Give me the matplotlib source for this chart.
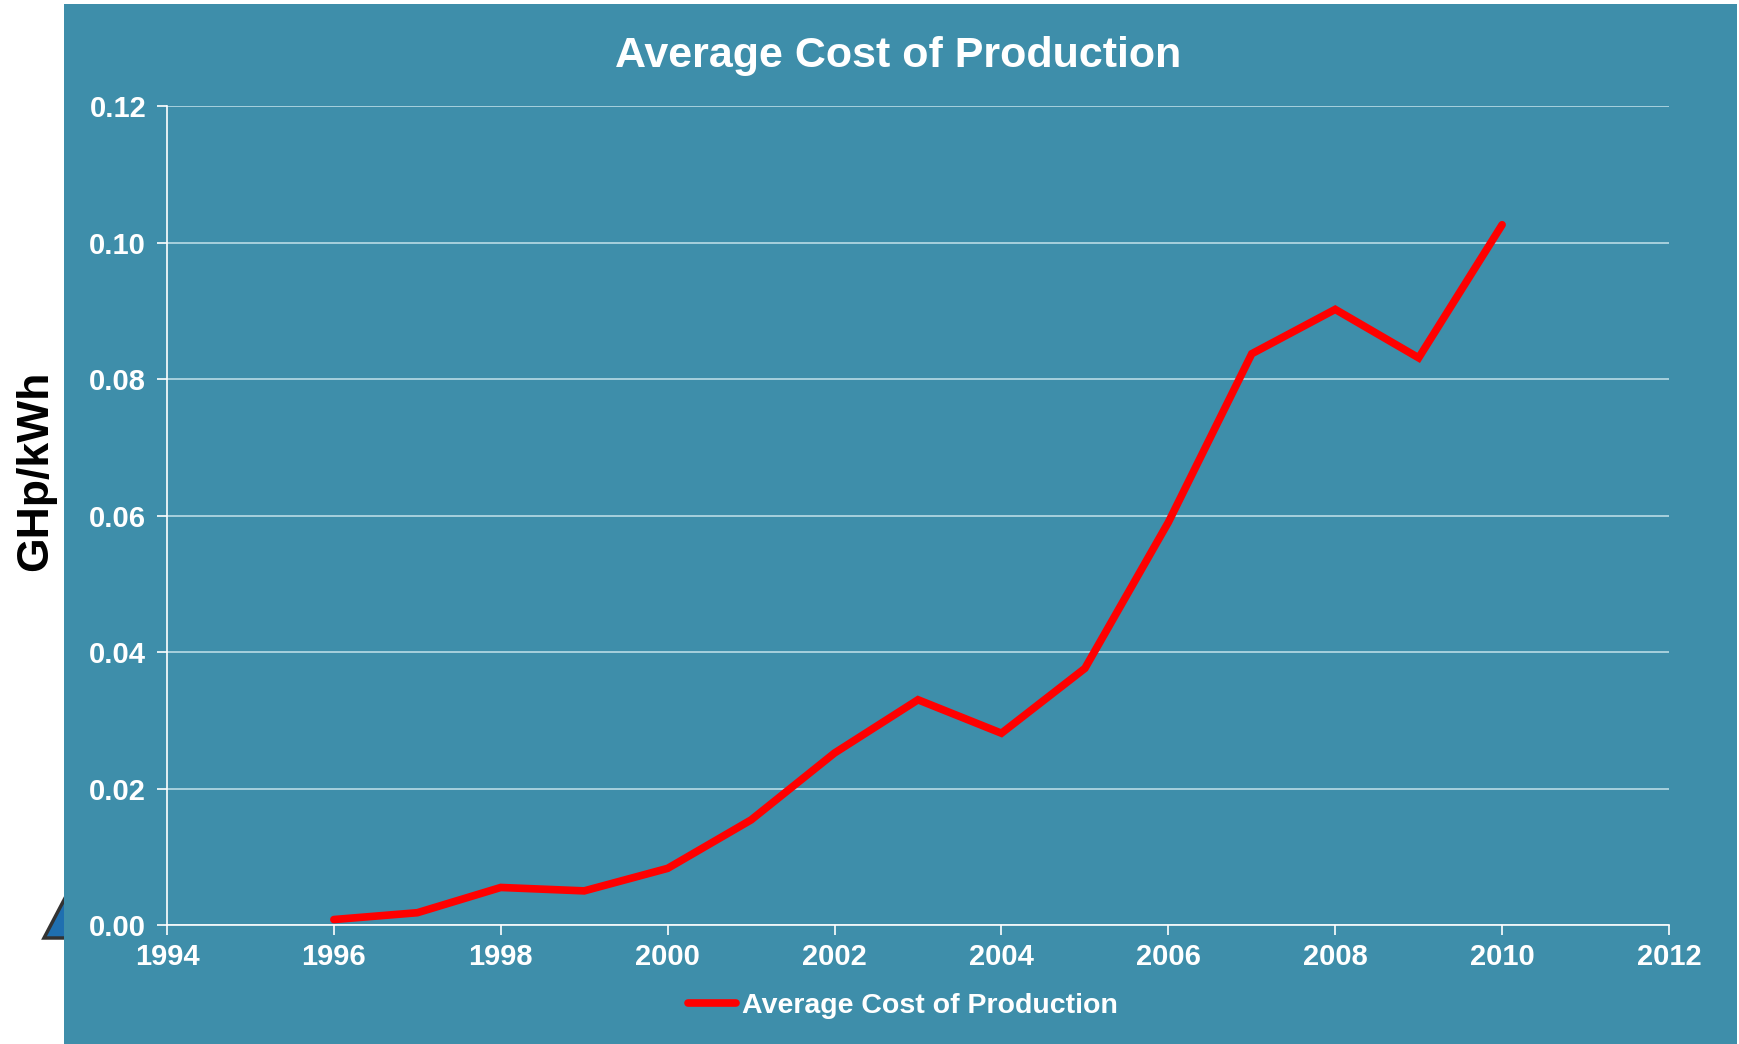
import matplotlib
matplotlib.use("Agg")
import matplotlib.pyplot as plt
from matplotlib.patches import Rectangle, Polygon
from matplotlib.lines import Line2D

years = [1996, 1997, 1998, 1999, 2000, 2001, 2002, 2003, 2004, 2005, 2006, 2007, 2008, 2009, 2010]
cost = [0.0008, 0.0018, 0.0055, 0.0050, 0.0083, 0.0154, 0.0252, 0.0330, 0.0281, 0.0376, 0.0590, 0.0837, 0.0902, 0.0831, 0.1026]
x_ticks = [1994, 1996, 1998, 2000, 2002, 2004, 2006, 2008, 2010, 2012]
y_ticks = [0.00, 0.02, 0.04, 0.06, 0.08, 0.10, 0.12]
series_name = "Average Cost of Production"
title = "Average Cost of Production"
ylabel = "GHp/kWh"

plt.rcParams['font.family'] = ['Liberation Sans', 'DejaVu Sans']
bg = '#3e8eaa'
W, H = 1739, 1044
fig = plt.figure(figsize=(W / 100, H / 100), dpi=100, facecolor='white')

# decorative triangle partially hidden behind panel
tri = Polygon([(44 / W, 1 - 938 / H), (64 / W, 1 - 900 / H), (80 / W, 1 - 938 / H)],
              closed=True, transform=fig.transFigure, facecolor='#1f6fb0',
              edgecolor='#333333', linewidth=2.5, zorder=-3)
fig.patches.append(tri)
panel = Rectangle((64 / W, 0), (1737 - 64) / W, 1 - 4 / H, transform=fig.transFigure,
                  facecolor=bg, edgecolor='none', zorder=-2)
fig.patches.append(panel)

ax = fig.add_axes([167 / W, 1 - 925 / H, (1669 - 167) / W, (925 - 106) / H])
ax.set_facecolor('none')
ax.plot(years, cost, color='#ff0000', linewidth=5.5, solid_capstyle='round',
        solid_joinstyle='miter', label=series_name, zorder=3)
ax.set_xlim(1994, 2012)
ax.set_ylim(0, 0.12)
ax.set_xticks(x_ticks)
ax.set_yticks(y_ticks)
ax.set_yticklabels([f"{v:.2f}" for v in y_ticks])
ax.grid(axis='y', color='#b9dbe6', linewidth=1.2)
ax.set_axisbelow(True)
for s in ['top', 'right']:
    ax.spines[s].set_visible(False)
for s in ['left', 'bottom']:
    ax.spines[s].set_color('white')
    ax.spines[s].set_linewidth(1.2)
ax.tick_params(colors='white', labelsize=21, length=7, width=1.2)
ax.tick_params(axis='y', pad=8)
ax.tick_params(axis='x', pad=6)
for lab in ax.get_xticklabels() + ax.get_yticklabels():
    lab.set_fontweight('bold')
    lab.set_color('white')

fig.text(898 / W, 1 - 56 / H, title, ha='center', va='center', color='white',
         fontsize=31, fontweight='bold')
fig.text(36 / W, 1 - 471 / H, ylabel, ha='center', va='center', color='black',
         fontsize=32, fontweight='bold', rotation=90)

handle = Line2D([0], [0], color='#ff0000', linewidth=5.5, solid_capstyle='round')
fig.legend([handle], [series_name], loc='center', bbox_to_anchor=(903 / W, 1 - 1006 / H),
           frameon=False, labelcolor='white', handlelength=1.7,
           handletextpad=0.2, prop={'weight': 'bold', 'size': 20.5})

fig.savefig('out.png', dpi=100, facecolor='white')
